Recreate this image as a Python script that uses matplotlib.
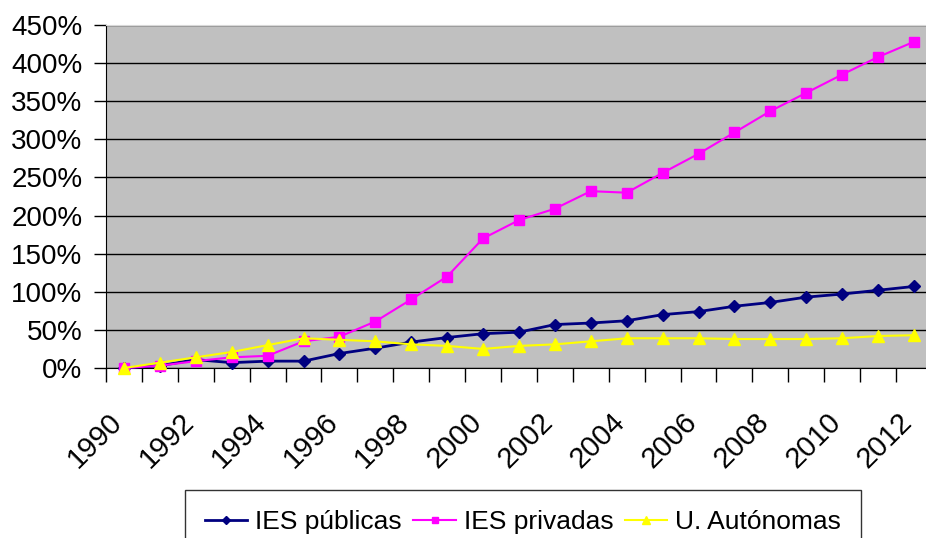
import matplotlib
matplotlib.use("Agg")
import matplotlib.pyplot as plt
import matplotlib.transforms as mtransforms
from matplotlib.ticker import FixedLocator, PercentFormatter

years = list(range(1990, 2013))
ies_publicas = [0, 3, 11, 7, 9, 9, 19, 26, 34, 40, 45, 47, 57, 59, 62, 70, 74, 81, 86, 93, 97, 102, 107]
ies_privadas = [0, 3, 9, 14, 16, 35, 41, 61, 90, 120, 170, 194, 209, 232, 230, 256, 281, 309, 337, 361, 385, 408, 428]
u_autonomas = [0, 7, 14, 21, 30, 39, 37, 35, 31, 29, 25, 29, 31, 35, 39, 39, 39, 38, 38, 38, 39, 42, 43]

plt.rcParams['font.family'] = ['Liberation Sans', 'DejaVu Sans']

fig = plt.figure(figsize=(9.26, 5.38), dpi=100)
ax = fig.add_axes([106/926, 1 - 368/538, (926 - 106)/926, (368 - 25)/538])
ax.set_facecolor('#C0C0C0')

x = list(range(len(years)))
ax.plot(x, ies_publicas, color='#000080', lw=2, marker='D', ms=6, label='IES públicas', clip_on=False, zorder=3)
ax.plot(x, ies_privadas, color='#FF00FF', lw=1.5, marker='s', ms=6.5, label='IES privadas', clip_on=False, zorder=3)
ax.plot(x, u_autonomas, color='#FFFF00', lw=1.5, marker='^', ms=8, label='U. Autónomas', clip_on=False, zorder=3)

ax.set_ylim(0, 450)
ax.set_xlim(-0.5, 22 + 12/35.9)
ax.set_yticks(range(0, 451, 50))
ax.yaxis.set_major_formatter(PercentFormatter(decimals=0))
ax.yaxis.grid(True, color='black', lw=1)
ax.set_axisbelow(True)

ax.xaxis.set_major_locator(FixedLocator(x[::2]))
ax.set_xticklabels([str(y) for y in years[::2]])
ax.xaxis.set_minor_locator(FixedLocator([i - 0.5 for i in x]))
ax.tick_params(axis='x', which='major', length=0, pad=0)
ax.tick_params(axis='x', which='minor', length=10, width=1, direction='out', color='black')
ax.tick_params(axis='y', length=9, width=1, direction='out', pad=8)
# shift rotated year labels down/left like the original
offset = mtransforms.ScaledTranslation(-6/100, -50/100, fig.dpi_scale_trans)
for lab in ax.get_xticklabels():
    lab.set_rotation(45)
    lab.set_ha('right')
    lab.set_va('center')
    lab.set_rotation_mode('anchor')
    lab.set_fontsize(21)
    lab.set_transform(lab.get_transform() + offset)
for lab in ax.get_yticklabels():
    lab.set_fontsize(20)

ax.spines['top'].set_color('#D8D8D8')
ax.spines['right'].set_visible(False)
ax.spines['left'].set_color('black')
ax.spines['bottom'].set_color('black')

leg = fig.legend(loc='upper center', bbox_to_anchor=(523/926, 1 - 490/538), ncol=3, fontsize=19,
                 frameon=True, fancybox=False, edgecolor='black', handlelength=1.6, handletextpad=0.3,
                 columnspacing=0.45, borderpad=0.75, borderaxespad=0, markerscale=0.7)
leg.get_frame().set_linewidth(1)

fig.savefig('out.png', dpi=100)
